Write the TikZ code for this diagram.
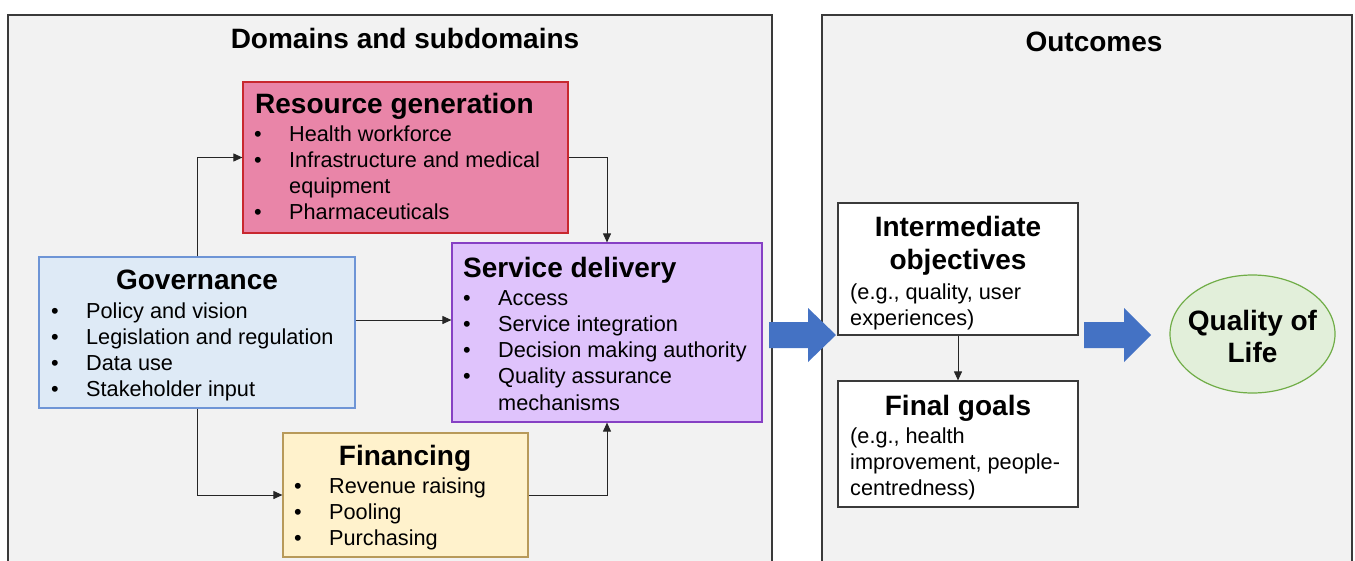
\documentclass[tikz,border=0pt]{standalone}
\usepackage{fontspec}
\setmainfont{Liberation Sans}
\usetikzlibrary{arrows.meta,shapes.geometric}

\definecolor{panelgray}{HTML}{F2F2F2}
\definecolor{panelline}{HTML}{3A3A3A}
\definecolor{resfill}{HTML}{E985A8}
\definecolor{resline}{HTML}{C8282F}
\definecolor{govfill}{HTML}{DEEAF6}
\definecolor{govline}{HTML}{6E95D6}
\definecolor{svcfill}{HTML}{DFC3FC}
\definecolor{svcline}{HTML}{8640C4}
\definecolor{finfill}{HTML}{FFF2CC}
\definecolor{finline}{HTML}{B89A5A}
\definecolor{qolfill}{HTML}{E2EFDA}
\definecolor{qolline}{HTML}{70AD47}
\definecolor{arrowblue}{HTML}{4472C4}

\newcommand{\itm}{\makebox[35pt][l]{\textbullet}}
\newcommand{\cnt}{\hspace*{35pt}}
\newcommand{\bodyfont}{\fontsize{21.7pt}{26.3pt}\selectfont}
\newcommand{\headfont}{\fontsize{28pt}{33pt}\selectfont\bfseries}

\tikzset{
  panel/.style={draw=panelline, line width=1.3pt, fill=panelgray},
  dombox/.style={rectangle, line width=1.2pt, inner sep=0pt},
  outbox/.style={dombox, draw=panelline, fill=white, minimum width=240pt},
  heading/.style={font=\headfont, inner sep=0pt, anchor=base},
  bullets/.style={font=\bodyfont, inner sep=0pt, anchor=base west},
  link/.style={-{Triangle[length=9pt,width=8pt]}, line width=1pt, draw=black!85},
  blockarrow/.style={fill=arrowblue},
}

\begin{document}
\begin{tikzpicture}[x=1pt,y=-1pt]
\useasboundingbox (0,0) rectangle (1355,560);
\clip (0,0) rectangle (1355,560);

% the two panels
\draw[panel] (8,15) rectangle (772,580);
\draw[panel] (822,15) rectangle (1352,580);
\node[heading] (domtitle) at (405,48) {Domains and subdomains};
\node[heading] (outtitle) at (1094,51) {Outcomes};

% domain boxes
\node[dombox, draw=resline, fill=resfill, minimum width=325pt, minimum height=151pt] (res) at (405.5,157.5) {};
\node[dombox, draw=govline, fill=govfill, minimum width=316pt, minimum height=151pt] (gov) at (197,332.5) {};
\node[dombox, draw=svcline, fill=svcfill, minimum width=310pt, minimum height=179pt] (svc) at (607,332.5) {};
\node[dombox, draw=finline, fill=finfill, minimum width=245pt, minimum height=124pt] (fin) at (405.5,495) {};

\node[heading, anchor=base west] (restitle) at (255,113) {Resource generation};
\node[bullets] (reslist) at (254,141) {\begin{tabular}[t]{@{}l@{}}
  \itm Health workforce\\
  \itm Infrastructure and medical\\
  \cnt equipment\\
  \itm Pharmaceuticals
\end{tabular}};

\node[heading] (govtitle) at (197,289) {Governance};
\node[bullets] (govlist) at (51,318) {\begin{tabular}[t]{@{}l@{}}
  \itm Policy and vision\\
  \itm Legislation and regulation\\
  \itm Data use\\
  \itm Stakeholder input
\end{tabular}};

\node[heading, anchor=base west] (svctitle) at (463,277) {Service delivery};
\node[bullets] (svclist) at (463,305) {\begin{tabular}[t]{@{}l@{}}
  \itm Access\\
  \itm Service integration\\
  \itm Decision making authority\\
  \itm Quality assurance\\
  \cnt mechanisms
\end{tabular}};

\node[heading] (fintitle) at (405,465) {Financing};
\node[bullets] (finlist) at (294,493) {\begin{tabular}[t]{@{}l@{}}
  \itm Revenue raising\\
  \itm Pooling\\
  \itm Purchasing
\end{tabular}};

% links between domains
\draw[link] (gov.north) |- (res.west);
\draw[link] (gov.south) |- (fin.west);
\draw[link] ([yshift=12.5pt]gov.east) -- ([yshift=12.5pt]svc.west);
\draw[link] (res.east) -| (svc.north);
\draw[link] (fin.east) -| (svc.south);

% outcomes
\node[outbox, minimum height=132pt] (inter) at (958,269) {};
\node[outbox, minimum height=126pt] (final) at (958,444) {};
\node[ellipse, draw=qolline, fill=qolfill, line width=1.2pt, minimum width=165pt, minimum height=118pt, inner sep=0pt] (qol) at (1252.5,334) {};

\node[heading] (intertitle) at (958,236) {\begin{tabular}[t]{@{}c@{}}Intermediate\\ objectives\end{tabular}};
\node[bullets] (intertext) at (850,299) {\begin{tabular}[t]{@{}l@{}}
  (e.g., quality, user\\
  experiences)
\end{tabular}};
\node[heading] (finaltitle) at (958,415) {Final goals};
\node[bullets] (finaltext) at (850,443) {\begin{tabular}[t]{@{}l@{}}
  (e.g., health\\
  improvement, people-\\
  centredness)
\end{tabular}};
\node[heading, font=\fontsize{28pt}{32pt}\selectfont\bfseries] (qoltext) at (1252.5,330) {\begin{tabular}[t]{@{}c@{}}Quality of\\ Life\end{tabular}};

\draw[link] (inter.south) -- (final.north);

% block arrows
\fill[blockarrow] (769,322) -- (808,322) -- (808,308) -- (836,335) -- (808,362) -- (808,348) -- (769,348) -- cycle;
\fill[blockarrow] (1084,322) -- (1124,322) -- (1124,308) -- (1151,335) -- (1124,362) -- (1124,348) -- (1084,348) -- cycle;
\end{tikzpicture}
\end{document}
